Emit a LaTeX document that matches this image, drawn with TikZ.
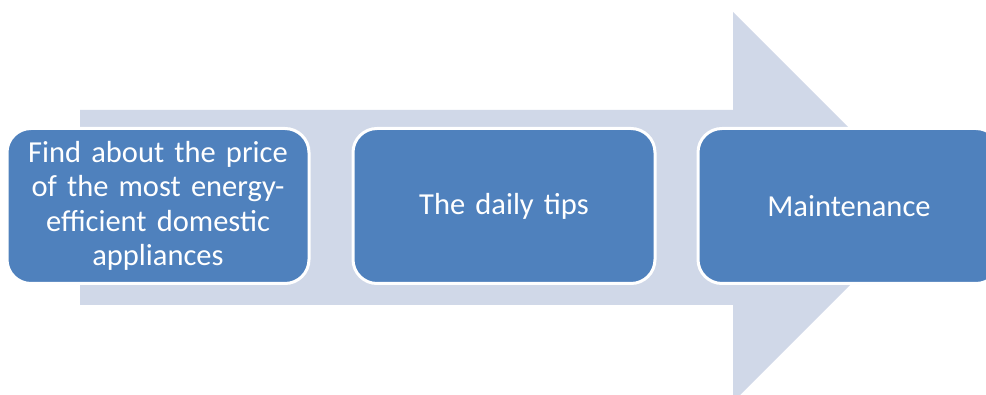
\documentclass[tikz,border=0pt]{standalone}
\usepackage{fontspec}
\setmainfont{Carlito}
\definecolor{arrowfill}{HTML}{D0D8E8}
\definecolor{boxfill}{HTML}{4F81BD}
\begin{document}
\begin{tikzpicture}[x=1pt,y=-1pt,
  stepbox/.style={draw=white, line width=3pt, fill=boxfill, rounded corners=24pt,
    minimum width=302pt, minimum height=155pt, text=white, align=center,
    font=\fontsize{30.5}{34.5}\selectfont, text width=290pt, inner sep=0pt}]
\useasboundingbox (0,0) rectangle (986,395);
\begin{scope}
\clip (0,0) rectangle (986,395);
\fill[arrowfill] (80,110) -- (733,110) -- (733,12) -- (928,207) -- (733,402) -- (733,305) -- (80,305) -- cycle;
\node[stepbox] (a) at (158,206) {Find about the price\\of the most energy-\\efficient domestic\\appliances};
\node[stepbox] (b) at (504,206) {The daily tips};
\node[stepbox] (c) at (849,206) {Maintenance};
\end{scope}
\end{tikzpicture}
\end{document}
